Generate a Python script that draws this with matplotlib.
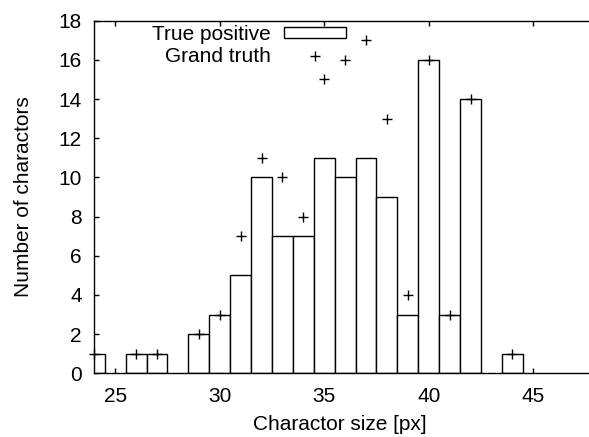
import matplotlib
matplotlib.use("Agg")
import matplotlib.pyplot as plt
from matplotlib.patches import Patch
from matplotlib.lines import Line2D

plt.rcParams['font.family'] = ['Liberation Sans', 'DejaVu Sans']

# True positive histogram
tp_sizes = [24, 26, 27, 29, 30, 31, 32, 33, 34, 35, 36, 37, 38, 39, 40, 41, 42, 44]
tp_counts = [1, 1, 1, 2, 3, 5, 10, 7, 7, 11, 10, 11, 9, 3, 16, 3, 14, 1]

# Grand truth points
gt_sizes = [24, 26, 27, 29, 30, 31, 32, 33, 34, 35, 36, 37, 38, 39, 40, 41, 42, 44]
gt_counts = [1, 1, 1, 2, 3, 7, 11, 10, 8, 15, 16, 17, 13, 4, 16, 3, 14, 1]

x_ticks = [25, 30, 35, 40, 45]
y_ticks = [0, 2, 4, 6, 8, 10, 12, 14, 16, 18]

W, H = 589, 437
fig = plt.figure(figsize=(W / 100, H / 100), dpi=100)
left_px, bottom_px = 94.3, 373.3
top_px = 20.7
unit = 20.9
xmin, xmax = 24, 50
ax = fig.add_axes([left_px / W, (H - bottom_px) / H,
                   (xmax - xmin) * unit / W, (bottom_px - top_px) / H])

ax.bar(tp_sizes, tp_counts, width=1.0, facecolor='white', edgecolor='black',
       linewidth=1.0, zorder=2)
ax.plot(gt_sizes, gt_counts, linestyle='none', marker='+', markersize=7.5,
        markeredgewidth=1.0, color='black', clip_on=False, zorder=3)

ax.set_xlim(xmin, xmax)
ax.set_ylim(0, 18)
ax.set_xticks(x_ticks)
ax.set_yticks(y_ticks)
fs = 15
ax.tick_params(direction='in', length=3.6, width=1.0, labelsize=fs,
               top=True, right=False, pad=9, colors='black')
ax.tick_params(axis='x', pad=10)
for s in ax.spines.values():
    s.set_linewidth(1.0)
ax.spines['right'].set_visible(False)

fig.text(340 / W, 1 - 424 / H, 'Charactor size [px]', ha='center', va='center',
         fontsize=fs)
fig.text(24 / W, 1 - 197 / H, 'Number of charactors', ha='center', va='center',
         rotation=90, fontsize=fs)

handles = [Patch(facecolor='white', edgecolor='black', linewidth=1.0),
           Line2D([], [], linestyle='none', marker='+', markersize=7.5,
                  markeredgewidth=1.0, color='black')]
leg = ax.legend(handles, ['True positive', 'Grand truth'], markerfirst=False,
                frameon=False, loc='upper right',
                bbox_to_anchor=(346 / W, 1 - 25 / H),
                bbox_transform=fig.transFigure, borderpad=0, borderaxespad=0,
                handlelength=3.0, handleheight=0.45, handletextpad=0.6,
                labelspacing=0.15, fontsize=fs)

fig.savefig('out.png', dpi=100)
